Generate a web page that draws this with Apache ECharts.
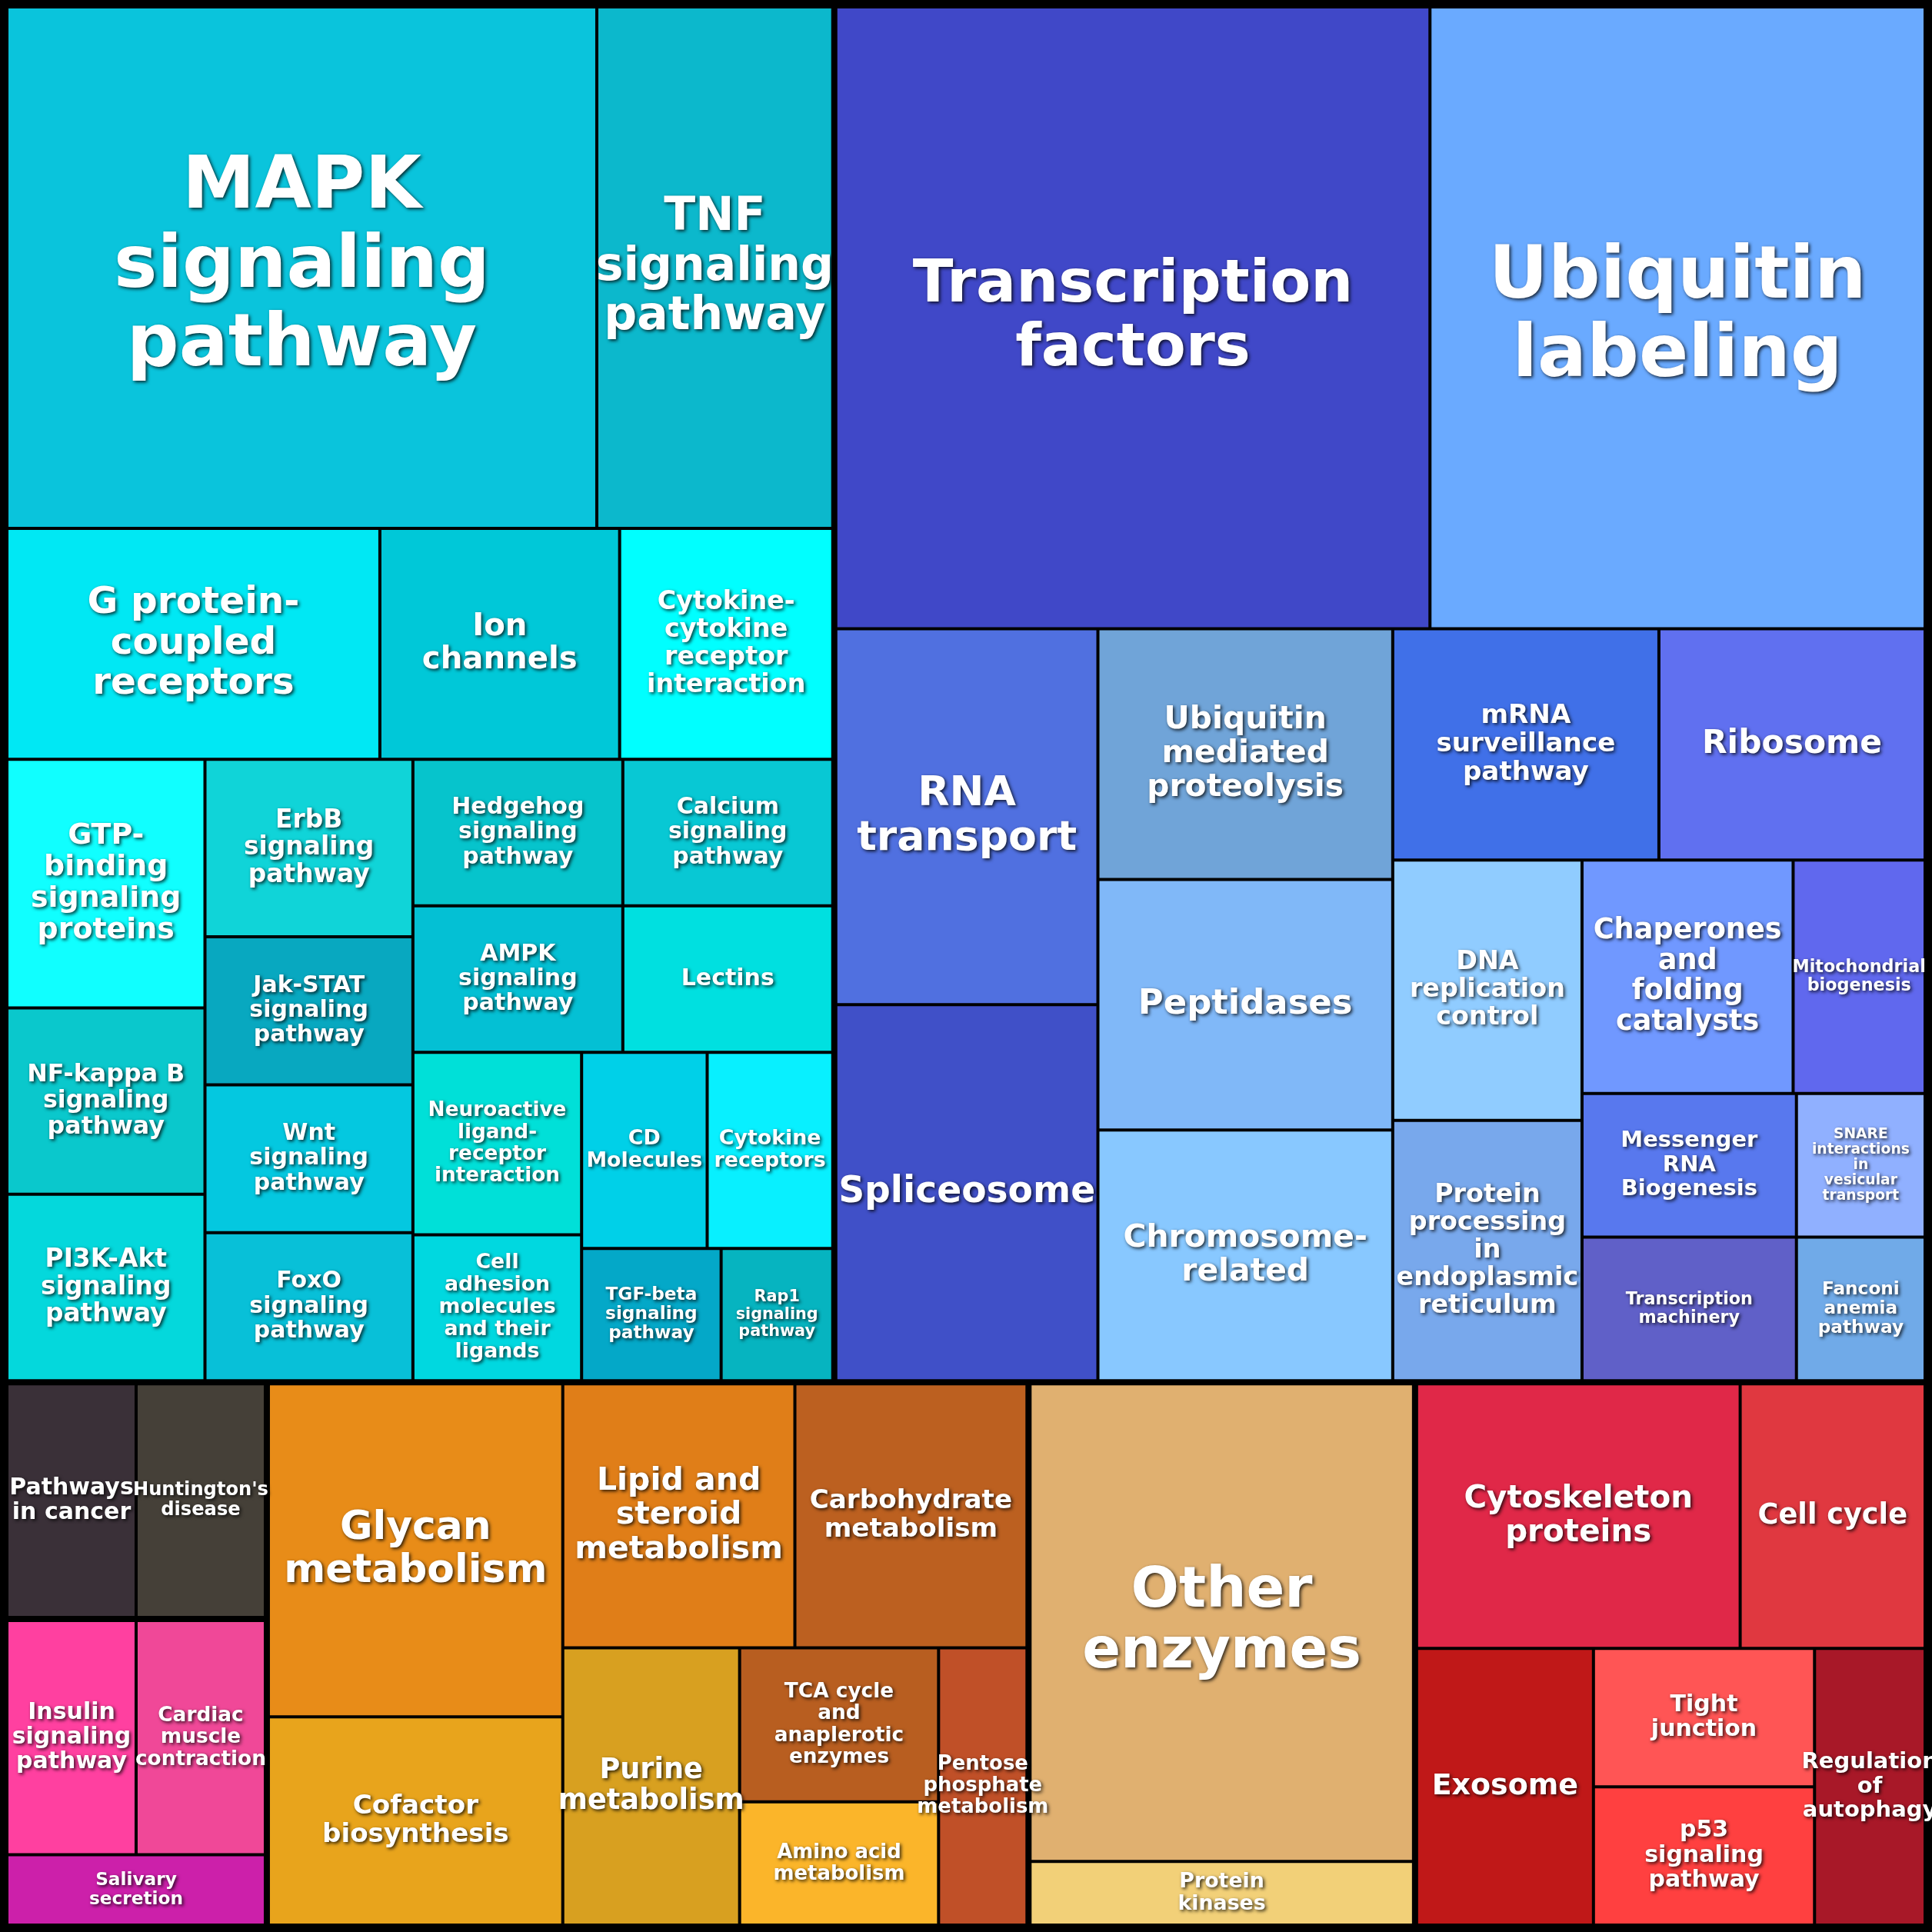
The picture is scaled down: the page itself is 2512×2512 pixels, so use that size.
<!DOCTYPE html>
<html><head><meta charset="utf-8">
<script src="https://cdn.jsdelivr.net/npm/echarts@6/dist/echarts.min.js"></script>
<style>html,body{margin:0;padding:0;background:#fff}#c{width:2512px;height:2512px}</style>
</head><body><div id="c"></div>
<script>
const groupNames = ["Signaling","Genetic information processing","Human diseases","Organismal systems","Metabolism","Other enzymes group","Cellular processes"];
const signalingNames = ["MAPK signaling pathway","TNF signaling pathway","G protein-coupled receptors","Ion channels","Cytokine-cytokine receptor interaction","GTP-binding signaling proteins","NF-kappa B signaling pathway","PI3K-Akt signaling pathway","ErbB signaling pathway","Jak-STAT signaling pathway","Wnt signaling pathway","FoxO signaling pathway","Hedgehog signaling pathway","Calcium signaling pathway","AMPK signaling pathway","Lectins","Neuroactive ligand-receptor interaction","Cell adhesion molecules and their ligands","CD Molecules","Cytokine receptors","TGF-beta signaling pathway","Rap1 signaling pathway"];
const signalingValues = [250,100,70,45,40,40,30,30,30,25,25,25,25,25,25,25,25,20,20,20,15,12];
const signalingColors = ["#0ac4dc","#0cb8cc","#00e8f4","#00c8d8","#00ffff","#10ffff","#0ac8cc","#04d8dc","#10d4d8","#08a8c0","#04c8e0","#08c0d8","#06c4cc","#08c8d4","#04c0d4","#00e0e0","#00e0d8","#00d8e0","#00d0e8","#08f0ff","#04a8c8","#06b4c0"];
const geneticNames = ["Transcription factors","Ubiquitin labeling","RNA transport","Spliceosome","Ubiquitin mediated proteolysis","Peptidases","Chromosome-related","mRNA surveillance pathway","Ribosome","DNA replication control","Protein processing in endoplasmic reticulum","Chaperones and folding catalysts","Mitochondrial biogenesis","Messenger RNA Biogenesis","Transcription machinery","SNARE interactions in vesicular transport","Fanconi anemia pathway"];
const geneticValues = [300,250,80,80,60,60,60,50,50,40,40,40,25,25,25,15,15];
const geneticColors = ["#4048c8","#6aaaff","#5070e0","#4050c8","#70a4d8","#80b8f8","#88c8ff","#4070e8","#6070f0","#90ccff","#78a8ec","#7098ff","#6068ee","#5878ee","#6060c8","#90b0ff","#70aae8"];
const metabolismNames = ["Glycan metabolism","Cofactor biosynthesis","Lipid and steroid metabolism","Carbohydrate metabolism","Purine metabolism","TCA cycle and anaplerotic enzymes","Amino acid metabolism","Pentose phosphate metabolism"];
const metabolismValues = [80,50,50,50,40,25,20,20];
const metabolismColors = ["#e88c18","#e8a41c","#e07e18","#bc6020","#d8a020","#b85e20","#fbb52a","#c05028"];
const otherNames = ["Other enzymes","Protein kinases"];
const otherValues = [150,20];
const otherColors = ["#e0b070","#f2d078"];
const cellularNames = ["Cytoskeleton proteins","Cell cycle","Exosome","Tight junction","p53 signaling pathway","Regulation of autophagy"];
const cellularValues = [70,40,40,25,25,25];
const cellularColors = ["#e02848","#e03840","#c01818","#ff5555","#ff4040","#a81828"];
const diseaseNames = ["Pathways in cancer","Huntington's disease"];
const diseaseValues = [25,25];
const diseaseColors = ["#3a3038","#454038"];
const organismalNames = ["Insulin signaling pathway","Cardiac muscle contraction","Salivary secretion"];
const organismalValues = [25,25,15];
const organismalColors = ["#ff40a0","#f04898","#cc20aa"];

function wrapLines(name){
  const w = name.replace(/-/g,'- ').split(' ');
  const lines=[]; let cur='';
  w.forEach(x=>{
    const join = cur.endsWith('-') ? cur+x : (cur?cur+' '+x:x);
    if(cur && join.length>10){lines.push(cur);cur=x;} else cur=join;
  });
  if(cur) lines.push(cur);
  return lines;
}
function leaves(names, values, colors){
  return names.map((n,i)=>{
    const v = values[i];
    const lines = wrapLines(n);
    const longest = Math.max(...lines.map(l=>l.length));
    let fs = Math.min(Math.sqrt(v)*6, Math.sqrt(v)*58/longest, Math.sqrt(v)*60/lines.length/1.1);
    fs = Math.max(13, Math.min(100, fs));
    return {name:n, value:v, itemStyle:{color:colors[i]},
      label:{fontSize:fs, lineHeight:fs*1.08}};
  });
}
const sets = [
  [signalingNames,signalingValues,signalingColors],
  [geneticNames,geneticValues,geneticColors],
  [diseaseNames,diseaseValues,diseaseColors],
  [organismalNames,organismalValues,organismalColors],
  [metabolismNames,metabolismValues,metabolismColors],
  [otherNames,otherValues,otherColors],
  [cellularNames,cellularValues,cellularColors]
];
const data = groupNames.map((g,i)=>({name:g, children:leaves(...sets[i])}));

const chart = echarts.init(document.getElementById('c'));
chart.setOption({
  backgroundColor:'#000',
  series:[{
    type:'treemap', left:10, top:10, right:10, bottom:10,
    roam:false, nodeClick:false, breadcrumb:{show:false},
    squareRatio:1, sort:false,
    data:data,
    label:{show:true, position:'inside', align:'center', verticalAlign:'middle',
      color:'#fff', fontWeight:'bold', fontFamily:'DejaVu Sans',
      textShadowColor:'rgba(0,0,0,0.8)', textShadowBlur:4, textShadowOffsetX:2, textShadowOffsetY:2,
      overflow:'none', formatter:p=>wrapLines(p.name).join('\n')},
    upperLabel:{show:false},
    levels:[
      {itemStyle:{borderColor:'#000', borderWidth:0, gapWidth:6}},
      {itemStyle:{borderColor:'#000', borderWidth:0, gapWidth:2}},
      {itemStyle:{borderColor:'#000', borderWidth:1}}
    ]
  }]
});
</script></body></html>
